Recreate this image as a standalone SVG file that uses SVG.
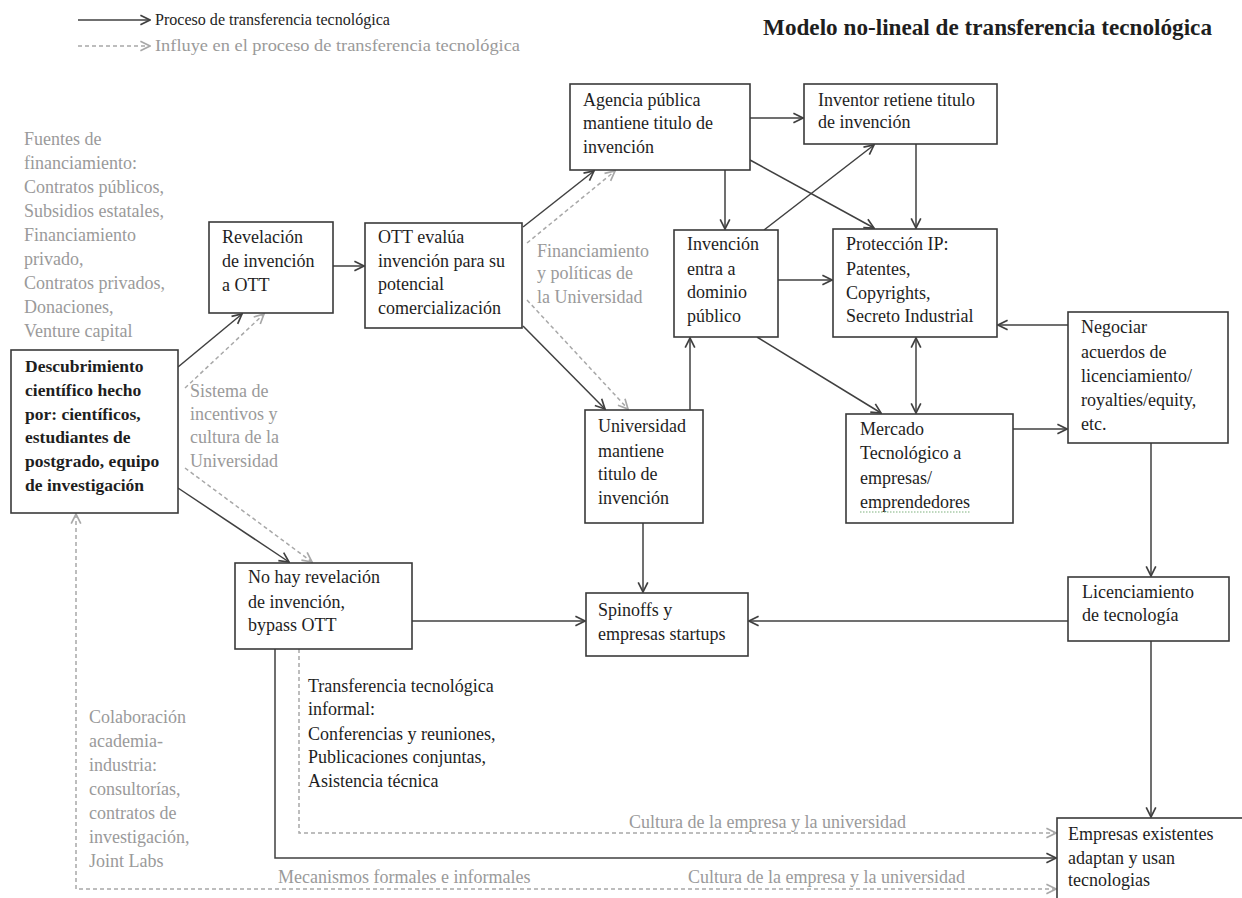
<svg xmlns="http://www.w3.org/2000/svg" width="1242" height="898" viewBox="0 0 1242 898">
<defs>
<marker id="ah" markerUnits="userSpaceOnUse" markerWidth="12" markerHeight="12" viewBox="0 0 10 10" refX="9" refY="5" orient="auto-start-reverse">
<path d="M1,1 L9,5 L1,9" fill="none" stroke="#404040" stroke-width="1.4"/>
</marker>
<marker id="ahg" markerUnits="userSpaceOnUse" markerWidth="12" markerHeight="12" viewBox="0 0 10 10" refX="9" refY="5" orient="auto-start-reverse">
<path d="M1,1 L9,5 L1,9" fill="none" stroke="#a8a8a8" stroke-width="1.4"/>
</marker>
<style>
.box{fill:#fff;stroke:#3a3a3a;stroke-width:1.6}
.t{font-family:"Liberation Serif","Times New Roman",serif;font-size:18px;fill:#1e1e1e}
.b{font-weight:bold;font-size:17.5px}
.g{font-family:"Liberation Serif","Times New Roman",serif;font-size:18px;fill:#9a9a9a}
.s{fill:none;stroke:#404040;stroke-width:1.5;marker-end:url(#ah)}
.d{fill:none;stroke:#a8a8a8;stroke-width:1.5;stroke-dasharray:4 3;marker-end:url(#ahg)}
</style>
</defs>
<rect width="1242" height="898" fill="#fff"/>

<g id="legend">
<line x1="78" y1="20" x2="150" y2="20" class="s"/>
<text x="155" y="25" class="t" style="font-size:16px" textLength="235" lengthAdjust="spacingAndGlyphs">Proceso de transferencia tecnológica</text>
<line x1="78" y1="46" x2="150" y2="46" class="d"/>
<text x="155" y="51" class="g" style="font-size:16px" textLength="365" lengthAdjust="spacingAndGlyphs">Influye en el proceso de transferencia tecnológica</text>
</g>
<text id="title" x="763" y="35" class="t" style="font-size:23px;font-weight:bold" textLength="449" lengthAdjust="spacingAndGlyphs">Modelo no-lineal de transferencia tecnológica</text>

<g id="connectors">
<path class="s" d="M178,367 L242,314"/>
<path class="s" d="M178,488 L289,562"/>
<path class="s" d="M333,266 L364,266"/>
<path class="s" d="M523,227 L594,171"/>
<path class="s" d="M523,326 L605,409"/>
<path class="s" d="M690,410 L690,338"/>
<path class="s" d="M725,170 L725,229"/>
<path class="s" d="M750,118 L803,118"/>
<path class="s" d="M750,160 L874,228"/>
<path class="s" d="M764,230 L874,145"/>
<path class="s" d="M916,144 L916,228"/>
<path class="s" d="M778,280 L832,280"/>
<path class="s" d="M757,337 L881,413"/>
<path class="s" d="M916,338 L916,413" style="marker-start:url(#ah)"/>
<path class="s" d="M1068,325 L998,325"/>
<path class="s" d="M1013,429 L1067,429"/>
<path class="s" d="M1151,443 L1151,576"/>
<path class="s" d="M1068,621 L749,621"/>
<path class="s" d="M412,621 L585,621"/>
<path class="s" d="M643,523 L643,592"/>
<path class="s" d="M1151,641 L1151,817"/>
<path class="s" d="M275,649 L275,858 L1056,858"/>
<path class="d" d="M185,388 L264,314"/>
<path class="d" d="M185,468 L312,562"/>
<path class="d" d="M527,243 L615,171"/>
<path class="d" d="M527,300 L628,409"/>
<path class="d" d="M299,649 L299,833 L1056,833"/>
<path class="d" d="M76,514 L76,889 L1056,889" style="marker-start:url(#ahg)"/>
</g>

<g id="descubrimiento">
<rect class="box" x="11" y="350" width="167" height="163"/>
<text class="t b" x="25" y="372">Descubrimiento</text>
<text class="t b" x="25" y="396">científico hecho</text>
<text class="t b" x="25" y="420">por: científicos,</text>
<text class="t b" x="25" y="443">estudiantes de</text>
<text class="t b" x="25" y="467">postgrado, equipo</text>
<text class="t b" x="25" y="491">de investigación</text>
</g>

<g id="revelacion">
<rect class="box" x="209" y="222" width="124" height="91"/>
<text class="t" x="222" y="243">Revelación</text>
<text class="t" x="222" y="267">de invención</text>
<text class="t" x="222" y="291">a OTT</text>
</g>

<g id="ott">
<rect class="box" x="365" y="223" width="157" height="105"/>
<text class="t" x="378" y="243">OTT evalúa</text>
<text class="t" x="378" y="267">invención para su</text>
<text class="t" x="378" y="290">potencial</text>
<text class="t" x="378" y="314">comercialización</text>
</g>

<g id="agencia">
<rect class="box" x="570" y="84" width="180" height="86"/>
<text class="t" x="583" y="106">Agencia pública</text>
<text class="t" x="583" y="129">mantiene titulo de</text>
<text class="t" x="583" y="153">invención</text>
</g>

<g id="inventor">
<rect class="box" x="804" y="84" width="193" height="60"/>
<text class="t" x="818" y="106">Inventor retiene titulo</text>
<text class="t" x="818" y="128">de invención</text>
</g>

<g id="dominio">
<rect class="box" x="674" y="230" width="104" height="107"/>
<text class="t" x="687" y="250">Invención</text>
<text class="t" x="687" y="275">entra a</text>
<text class="t" x="687" y="298">dominio</text>
<text class="t" x="687" y="322">público</text>
</g>

<g id="proteccion">
<rect class="box" x="833" y="229" width="164" height="108"/>
<text class="t" x="846" y="250">Protección IP:</text>
<text class="t" x="846" y="275">Patentes,</text>
<text class="t" x="846" y="299">Copyrights,</text>
<text class="t" x="846" y="322">Secreto Industrial</text>
</g>

<g id="negociar">
<rect class="box" x="1068" y="312" width="160" height="131"/>
<text class="t" x="1081" y="333">Negociar</text>
<text class="t" x="1081" y="358">acuerdos de</text>
<text class="t" x="1081" y="382">licenciamiento/</text>
<text class="t" x="1081" y="406">royalties/equity,</text>
<text class="t" x="1081" y="430">etc.</text>
</g>

<g id="mercado">
<rect class="box" x="846" y="414" width="167" height="109"/>
<text class="t" x="860" y="435">Mercado</text>
<text class="t" x="860" y="459">Tecnológico a</text>
<text class="t" x="860" y="484">empresas/</text>
<text class="t" x="860" y="508">emprendedores</text>
<line x1="860" y1="512" x2="970" y2="512" stroke="#7fb27f" stroke-width="1.2" stroke-dasharray="1.5 1.5"/>
</g>

<g id="universidad">
<rect class="box" x="585" y="410" width="118" height="113"/>
<text class="t" x="598" y="432">Universidad</text>
<text class="t" x="598" y="457">mantiene</text>
<text class="t" x="598" y="480">titulo de</text>
<text class="t" x="598" y="504">invención</text>
</g>

<g id="spinoffs">
<rect class="box" x="586" y="593" width="162" height="63"/>
<text class="t" x="598" y="616">Spinoffs y</text>
<text class="t" x="598" y="640">empresas startups</text>
</g>

<g id="nohay">
<rect class="box" x="235" y="563" width="177" height="86"/>
<text class="t" x="248" y="583">No hay revelación</text>
<text class="t" x="248" y="608">de invención,</text>
<text class="t" x="248" y="631">bypass OTT</text>
</g>

<g id="licenciamiento">
<rect class="box" x="1068" y="577" width="161" height="64"/>
<text class="t" x="1082" y="598">Licenciamiento</text>
<text class="t" x="1082" y="621">de tecnología</text>
</g>

<g id="empresas">
<rect class="box" x="1057" y="818" width="200" height="100"/>
<text class="t" x="1068" y="840">Empresas existentes</text>
<text class="t" x="1068" y="864">adaptan y usan</text>
<text class="t" x="1068" y="886">tecnologias</text>
</g>

<g id="labels">
<text class="g" x="24" y="145">Fuentes de</text>
<text class="g" x="24" y="169">financiamiento:</text>
<text class="g" x="24" y="193">Contratos públicos,</text>
<text class="g" x="24" y="217">Subsidios estatales,</text>
<text class="g" x="24" y="241">Financiamiento</text>
<text class="g" x="24" y="265">privado,</text>
<text class="g" x="24" y="289">Contratos privados,</text>
<text class="g" x="24" y="313">Donaciones,</text>
<text class="g" x="24" y="337">Venture capital</text>

<text class="g" x="190" y="397">Sistema de</text>
<text class="g" x="190" y="420">incentivos y</text>
<text class="g" x="190" y="443">cultura de la</text>
<text class="g" x="190" y="467">Universidad</text>

<text class="g" x="537" y="257">Financiamiento</text>
<text class="g" x="537" y="279">y políticas de</text>
<text class="g" x="537" y="303">la Universidad</text>

<text class="t" x="308" y="692">Transferencia tecnológica</text>
<text class="t" x="308" y="715">informal:</text>
<text class="t" x="308" y="740">Conferencias y reuniones,</text>
<text class="t" x="308" y="763">Publicaciones conjuntas,</text>
<text class="t" x="308" y="787">Asistencia técnica</text>

<text class="g" x="89" y="723">Colaboración</text>
<text class="g" x="89" y="747">academia-</text>
<text class="g" x="89" y="771">industria:</text>
<text class="g" x="89" y="795">consultorías,</text>
<text class="g" x="89" y="819">contratos de</text>
<text class="g" x="89" y="843">investigación,</text>
<text class="g" x="89" y="867">Joint Labs</text>

<text class="g" x="629" y="828">Cultura de la empresa y la universidad</text>
<text class="g" x="278" y="883">Mecanismos formales e informales</text>
<text class="g" x="688" y="883">Cultura de la empresa y la universidad</text>
</g>
</svg>
